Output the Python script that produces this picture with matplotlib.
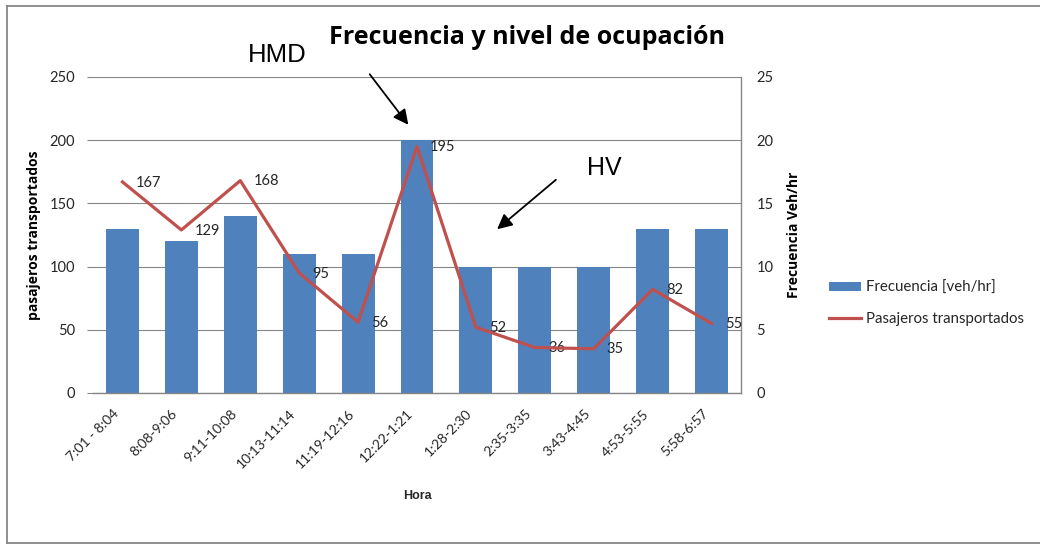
import matplotlib
matplotlib.use("Agg")
import matplotlib.pyplot as plt
import matplotlib.transforms as mtransforms
from matplotlib.lines import Line2D
from matplotlib.patches import Patch

horas = ["7:01 - 8:04", "8:08-9:06", "9:11-10:08", "10:13-11:14", "11:19-12:16",
         "12:22-1:21", "1:28-2:30", "2:35-3:35", "3:43-4:45", "4:53-5:55", "5:58-6:57"]
frecuencia = [13, 12, 14, 11, 11, 20, 10, 10, 10, 13, 13]
pasajeros = [167, 129, 168, 95, 56, 195, 52, 36, 35, 82, 55]
left_ticks = [0, 50, 100, 150, 200, 250]
right_ticks = [0, 5, 10, 15, 20, 25]

W, H = 1040, 545
fig = plt.figure(figsize=(W / 100, H / 100), dpi=100)
fig.patch.set_facecolor("white")

FONT = "Lato"
GRAY = "#868686"
TXT = "#262626"

ax = fig.add_axes([93 / W, 1 - 393 / H, (741 - 93) / W, (393 - 77) / H])
ax2 = ax.twinx()

x = list(range(len(horas)))

# bars on the right axis (below)
ax2.bar(x, frecuencia, width=0.56, color="#4F81BD", zorder=3)
ax2.set_ylim(0, 25)
ax2.set_yticks(right_ticks)
ax2.grid(axis="y", color=GRAY, linewidth=0.8, zorder=0)
ax2.set_axisbelow(True)

# line on the left axis (above)
ax.set_zorder(ax2.get_zorder() + 1)
ax.patch.set_visible(False)
ax.plot(x, pasajeros, color="#C0504D", linewidth=2.3, zorder=5)
for xi, v in zip(x, pasajeros):
    ax.annotate(str(v), (xi, v), xytext=(9.5, -0.5), textcoords="offset points",
                ha="left", va="center", fontsize=10.5, family=FONT, color=TXT)
ax.set_ylim(0, 250)
ax.set_yticks(left_ticks)
ax.set_xlim(-0.5, len(horas) - 0.5)

for a in (ax, ax2):
    for s in a.spines.values():
        s.set_visible(False)
ax2.spines["right"].set_visible(True)
ax2.spines["right"].set_color(GRAY)
ax2.spines["right"].set_linewidth(1.0)
ax.spines["bottom"].set_visible(True)
ax.spines["bottom"].set_color(GRAY)
ax.spines["bottom"].set_linewidth(1.0)

ax.tick_params(axis="y", length=4, color=GRAY, width=0.8, pad=9, labelsize=10.5,
               labelcolor=TXT)
ax2.tick_params(axis="y", length=0, pad=11, labelsize=10.5, labelcolor=TXT)
ax.set_xticks(x)
ax.set_xticklabels(horas, rotation=45, ha="right", va="top", rotation_mode="anchor",
                   fontsize=10, family=FONT, color=TXT)
ax.tick_params(axis="x", length=0, pad=9)
shift = mtransforms.ScaledTranslation(-10 / 100, -2 / 100, fig.dpi_scale_trans)
for lab in ax.get_xticklabels():
    lab.set_transform(lab.get_transform() + shift)
for lab in ax.get_yticklabels() + ax2.get_yticklabels():
    lab.set_family(FONT)

ax.set_xlabel("Hora", fontsize=9, fontweight="bold", family="Liberation Sans",
              color=TXT, labelpad=14)
ax.set_ylabel("pasajeros transportados", fontsize=10, fontweight="bold",
              family="Open Sans", color="black", labelpad=6)
ax2.set_ylabel("Frecuencia Veh/hr", fontsize=10, fontweight="bold",
               family="Open Sans", color="black", labelpad=10)

fig.text(527 / W, 1 - 38 / H, "Frecuencia y nivel de ocupación", ha="center",
         va="center", fontsize=18, fontweight="bold", family="Open Sans", color="black")

# annotations
fig.text(277 / W, 1 - 55 / H, "HMD", ha="center", va="center", fontsize=18.5,
         family="Liberation Sans", color="black")
fig.text(604 / W, 1 - 168 / H, "HV", ha="center", va="center", fontsize=18,
         family="Liberation Sans", color="black")
arrow = dict(arrowstyle="-|>,head_length=0.9,head_width=0.45", color="black", lw=1.3)
fig.add_artist(plt.Annotation("", xy=(410 / W, 1 - 127 / H), xytext=(368 / W, 1 - 72 / H),
                              xycoords="figure fraction", textcoords="figure fraction",
                              arrowprops=arrow))
fig.add_artist(plt.Annotation("", xy=(495 / W, 1 - 231 / H), xytext=(558 / W, 1 - 178 / H),
                              xycoords="figure fraction", textcoords="figure fraction",
                              arrowprops=arrow))

# legend
handles = [Patch(facecolor="#4F81BD", edgecolor="none"),
           Line2D([], [], color="#C0504D", linewidth=2.3)]
fig.legend(handles, ["Frecuencia [veh/hr]", "Pasajeros transportados"],
           loc="center left", bbox_to_anchor=(829 / W, 1 - 303 / H), frameon=False,
           borderpad=0, borderaxespad=0, handlelength=2.1, handleheight=0.55,
           handletextpad=0.35, labelspacing=1.15,
           prop={"family": FONT, "size": 10.8}, labelcolor=TXT)

# chart border
bc = "#878787"
fig.add_artist(Line2D([7 / W, 7 / W], [1 - 6 / H, 1 - 543 / H], color=bc, lw=1.3,
                      transform=fig.transFigure))
fig.add_artist(Line2D([7 / W, 1], [1 - 6 / H, 1 - 6 / H], color=bc, lw=1.3,
                      transform=fig.transFigure))
fig.add_artist(Line2D([7 / W, 1], [1 - 543 / H, 1 - 543 / H], color=bc, lw=1.3,
                      transform=fig.transFigure))

fig.savefig("out.png", dpi=100, facecolor="white")
